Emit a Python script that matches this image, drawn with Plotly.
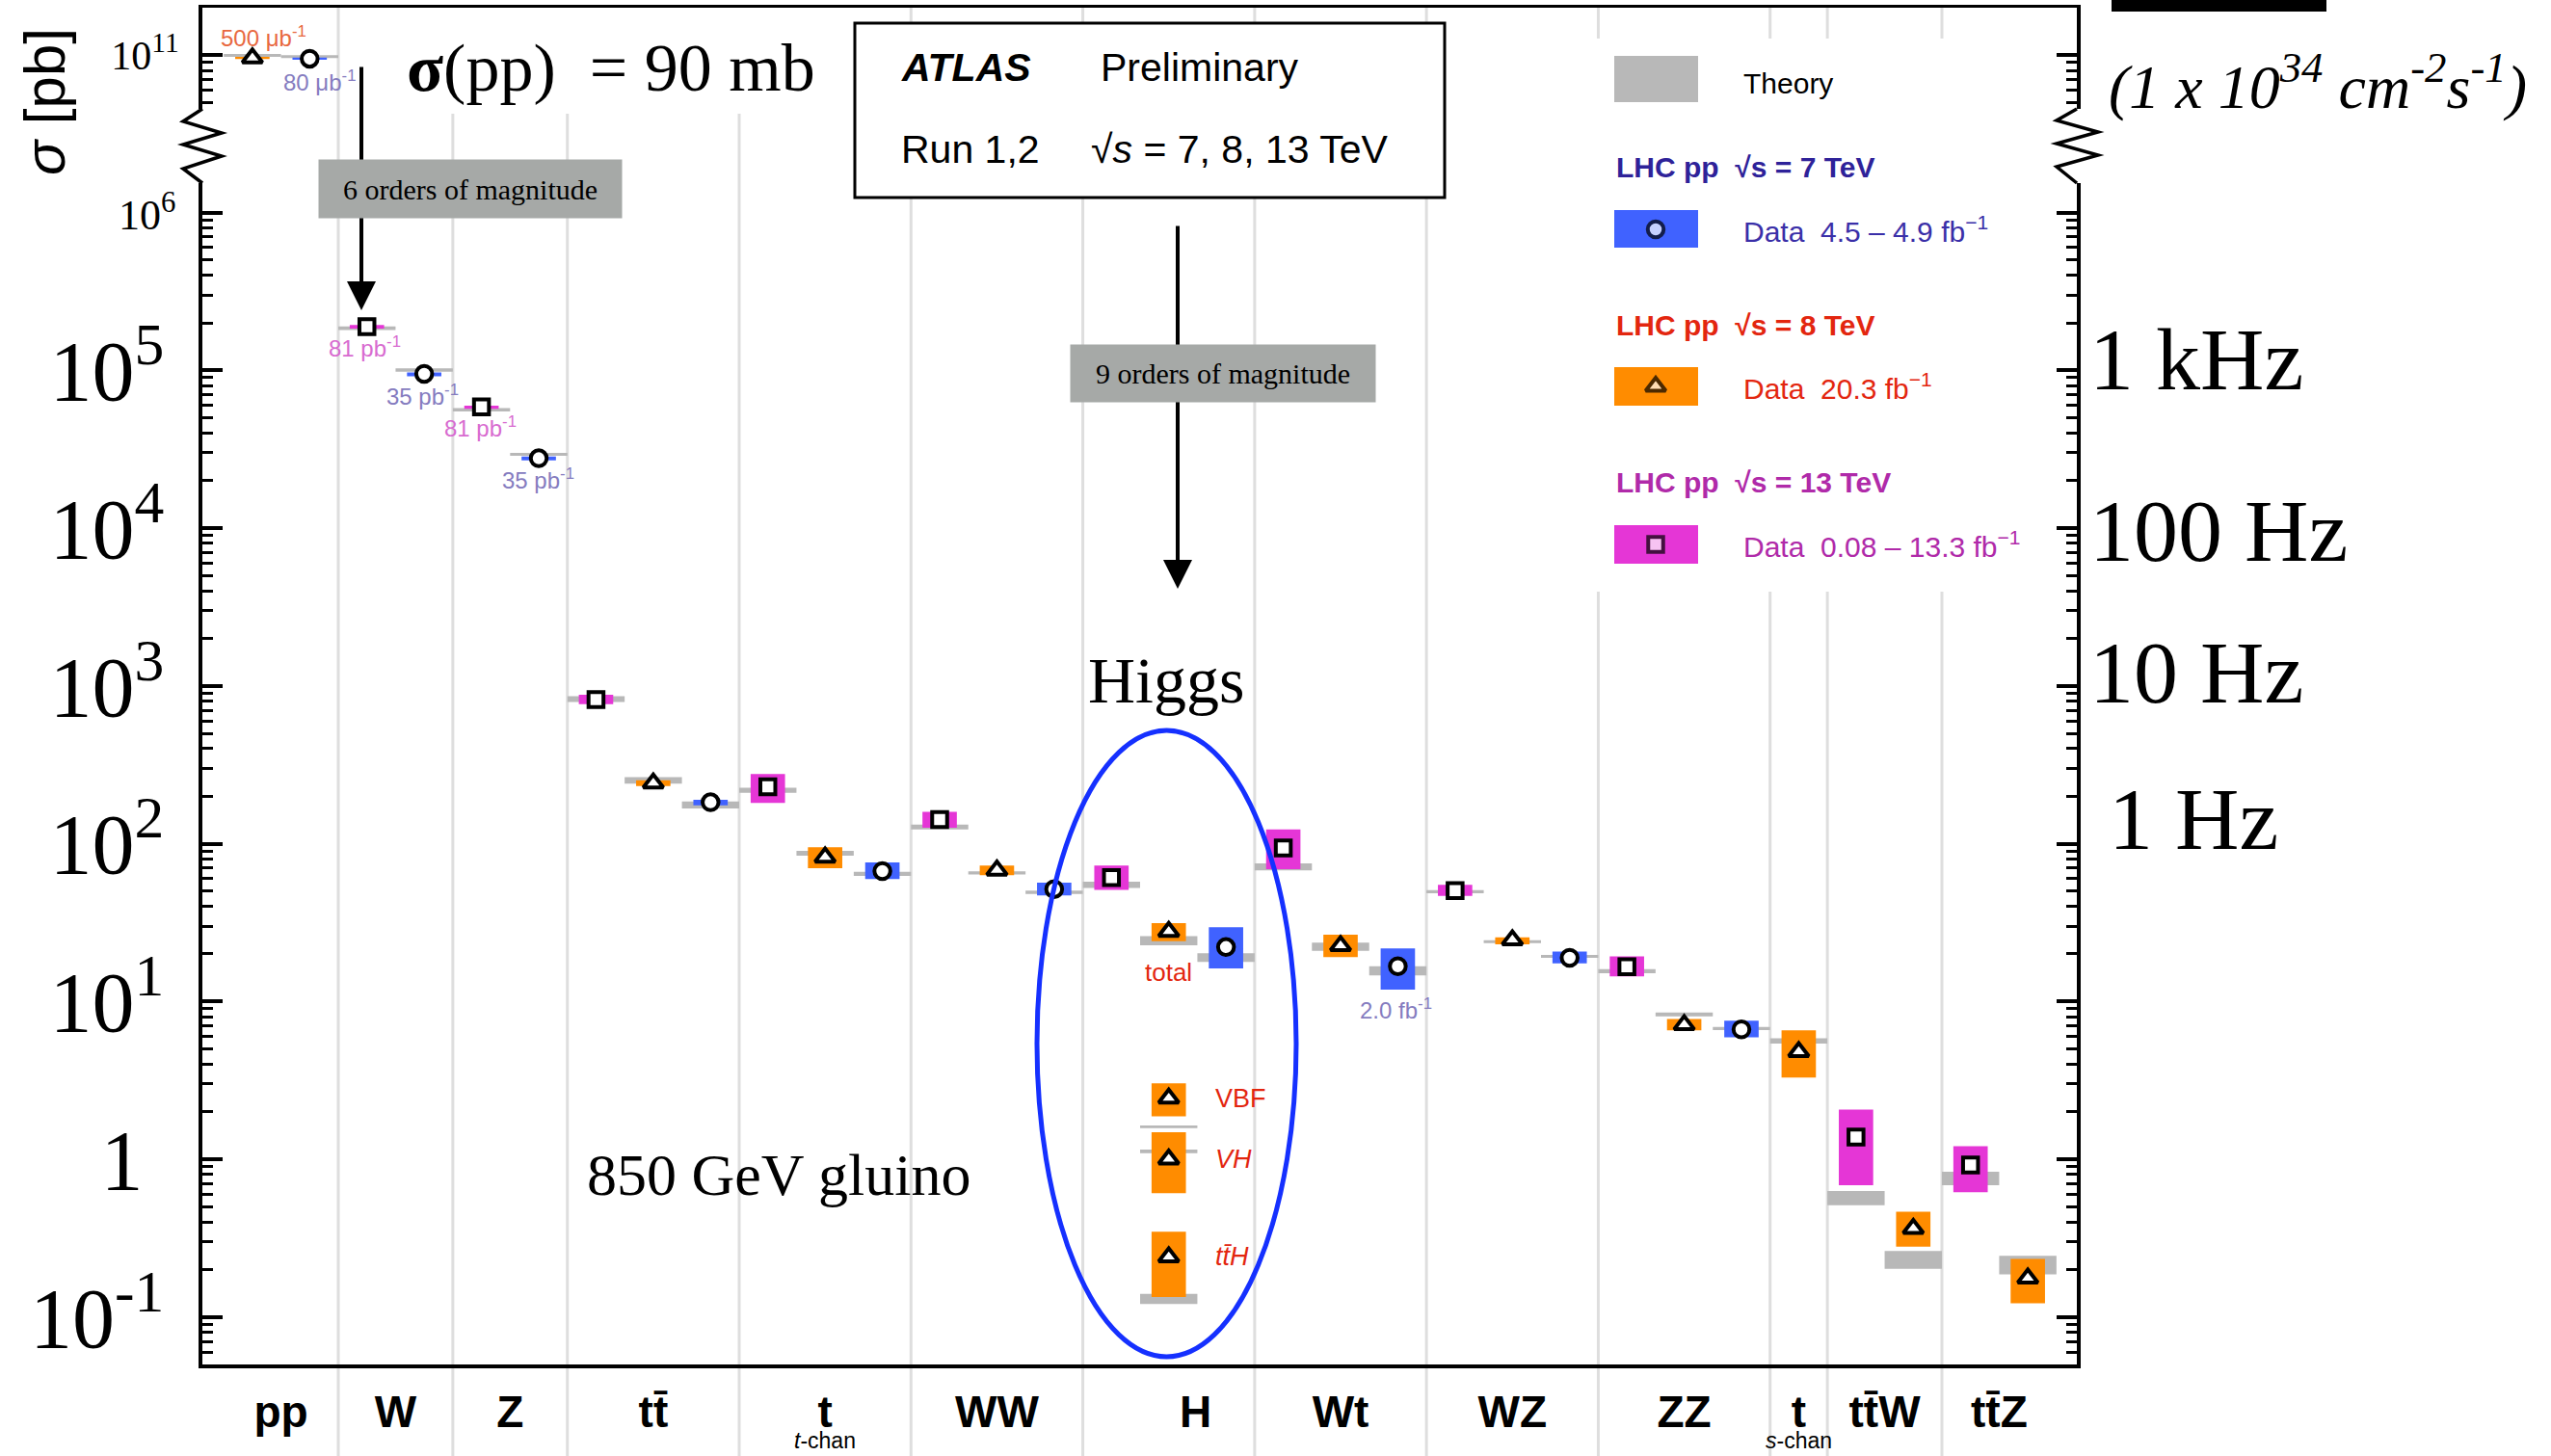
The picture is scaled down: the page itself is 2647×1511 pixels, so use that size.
import math
import plotly.graph_objects as go

# ---------------- data ----------------
cat_keys = ["pp", "W", "Z", "tt", "tchan", "WW", "H", "Wt", "WZ", "ZZ", "schan", "ttW", "ttZ"]
cat_labels = ["pp", "W", "Z", "tt\u0304", "t", "WW", "H", "Wt", "WZ", "ZZ", "t", "tt\u0304W", "tt\u0304Z"]
cat_sublabels = {"tchan": "<i>t</i>-chan", "schan": "<i>s</i>-chan"}

# 13 TeV (squares)
s13_cat = ["W", "Z", "tt", "tchan", "WW", "H", "Wt", "WZ", "ZZ", "ttW", "ttZ"]
s13_val = [1.89e5, 5.87e4, 818, 229, 142, 61, 94, 50.4, 16.6, 1.38, 0.92]
s13_lo = [1.84e5, 5.71e4, 767, 181, 126, 51, 69, 46.6, 14.4, 0.684, 0.617]
s13_hi = [1.94e5, 5.98e4, 880, 276, 159, 72.6, 123, 54.8, 19.3, 2.06, 1.21]
s13_th_lo = [1.80e5, 5.48e4, 790, 210, 123, 52.3, 67.8, 48.5, 15.1, 0.511, 0.684]
s13_th_hi = [1.90e5, 5.76e4, 860, 226, 132, 57.4, 75.0, 50.8, 16.0, 0.628, 0.833]

# 8 TeV (triangles)
s8_cat = ["pp", "tt", "tchan", "WW", "H", "Wt", "WZ", "ZZ", "schan", "ttW", "ttZ"]
s8_val = [9.6e10, 242, 82, 67.8, 27.7, 22.5, 24.5, 7.1, 4.8, 0.363, 0.176]
s8_lo = [9.45e10, 232, 70, 63, 24.1, 19.1, 23.0, 6.56, 3.29, 0.279, 0.122]
s8_hi = [9.75e10, 252, 95, 72.6, 31.3, 26.5, 25.5, 7.73, 6.56, 0.464, 0.233]
s8_th_lo = [9.75e10, 240, 84, 63.7, 22.7, 20.9, 23.4, 8.05, 5.41, 0.202, 0.186]
s8_th_hi = [1.02e11, 264, 90, 66.8, 25.9, 23.6, 24.4, 8.52, 5.83, 0.262, 0.244]

# 7 TeV (circles)
s7_cat = ["pp", "W", "Z", "tt", "tchan", "WW", "H", "Wt", "WZ", "ZZ"]
s7_val = [9.5e10, 9.5e4, 2.77e4, 183, 67, 51.5, 22.1, 16.7, 18.9, 6.65]
s7_lo = [9.35e10, 9.16e4, 2.69e4, 175, 59.7, 47, 16.2, 11.9, 17.4, 5.92]
s7_hi = [9.65e10, 9.7e4, 2.84e4, 190, 76, 56.6, 29.5, 21.7, 20.7, 7.55]
s7_th_lo = [9.6e10, 9.8e4, 2.87e4, 167, 62.5, 48, 17.8, 14.6, 18.9, 6.59]
s7_th_hi = [1.0e11, 1.03e5, 3.0e4, 185, 66.4, 50.4, 20.2, 16.7, 19.7, 6.90]

# Higgs production modes, 8 TeV
h_modes = ["VBF", "<i>VH</i>", "<i>tt\u0304H</i>"]
h_val = [2.43, 1.0, 0.24]
h_lo = [1.87, 0.61, 0.134]
h_hi = [3.03, 1.48, 0.347]
h_th_lo = [1.575, 1.09, 0.121]
h_th_hi = [1.636, 1.15, 0.140]

# luminosity labels: (category, energy, text)
lumi_cat = ["pp", "pp", "W", "W", "Z", "Z", "Wt"]
lumi_energy = [8, 7, 13, 7, 13, 7, 7]
lumi_text = ["500 \u03bcb<sup>-1</sup>", "80 \u03bcb<sup>-1</sup>", "81 pb<sup>-1</sup>", "35 pb<sup>-1</sup>",
             "81 pb<sup>-1</sup>", "35 pb<sup>-1</sup>", "2.0 fb<sup>-1</sup>"]

# rate scale on the right (at 1e34 cm^-2 s^-1)
rate_sigma = [1e5, 1e4, 1e3, 1e2]
rate_text = ["1 kHz", "100 Hz", "10 Hz", "1 Hz"]

# ---------------- styling ----------------
SERIF = "Liberation Serif, Times New Roman, serif"
SANS = "Liberation Sans, Arial, sans-serif"
C_TH = "#b8b8b8"
C7, C8, C13 = "#4062ff", "#ff8c00", "#e536d6"
T7, T8, T13 = "#2e2299", "#e3260f", "#b02aa9"
L7, L8, L13 = "#857cbf", "#e8683f", "#d86bd0"

L, R, T, B = 210, 2155, 8, 1416          # plot area in pixels


def px(x):
    return (x - L) / (R - L)


def py(y):
    return (B - y) / (B - T)


MS = {"square": 15.5, "triangle-up": 18, "circle": 16.5}
MLW = 4

series = [
    dict(e=13, cats=s13_cat, val=s13_val, lo=s13_lo, hi=s13_hi, tlo=s13_th_lo, thi=s13_th_hi,
         color=C13, symbol="square"),
    dict(e=8, cats=s8_cat, val=s8_val, lo=s8_lo, hi=s8_hi, tlo=s8_th_lo, thi=s8_th_hi,
         color=C8, symbol="triangle-up"),
    dict(e=7, cats=s7_cat, val=s7_val, lo=s7_lo, hi=s7_hi, tlo=s7_th_lo, thi=s7_th_hi,
         color=C7, symbol="circle"),
]

# slot assignment
slot_center = {}
bounds = []
k = 0
for key in cat_keys:
    start = k
    for s in series:
        if key in s["cats"]:
            slot_center[(key, s["e"])] = k + 0.5
            k += 1
    bounds.append((start, k))
n_slots = k
XMIN, XMAX = -0.373, n_slots + 0.356


def xpaper(xv):
    return (xv - XMIN) / (XMAX - XMIN)


fig = go.Figure()


def rect_trace(xc, lo, hi, half, color, xa, ya):
    xs, ys = [], []
    for x, l, h in zip(xc, lo, hi):
        xs += [x - half, x + half, x + half, x - half, x - half, None]
        ys += [l, l, h, h, l, None]
    fig.add_trace(go.Scatter(x=xs, y=ys, mode="lines", fill="toself", fillcolor=color,
                             line=dict(width=0, color=color), xaxis=xa, yaxis=ya,
                             hoverinfo="skip", showlegend=False))


def split(s):
    up, low = [], []
    for i, c in enumerate(s["cats"]):
        (up if c == "pp" else low).append(i)
    return up, low


hx = [slot_center[("H", 8)]] * len(h_val)

# theory bands
for s in series:
    up, low = split(s)
    for idx, xa, ya in ((low, "x", "y"), (up, "x2", "y2")):
        if idx:
            rect_trace([slot_center[(s["cats"][i], s["e"])] for i in idx],
                       [s["tlo"][i] for i in idx], [s["thi"][i] for i in idx], 0.5, C_TH, xa, ya)
rect_trace(hx, h_th_lo, h_th_hi, 0.5, C_TH, "x", "y")

# data boxes
for s in series:
    up, low = split(s)
    for idx, xa, ya in ((low, "x", "y"), (up, "x2", "y2")):
        if idx:
            rect_trace([slot_center[(s["cats"][i], s["e"])] for i in idx],
                       [s["lo"][i] for i in idx], [s["hi"][i] for i in idx], 0.3, s["color"], xa, ya)
rect_trace(hx, h_lo, h_hi, 0.3, C8, "x", "y")

# markers
for s in series:
    up, low = split(s)
    for idx, xa, ya in ((low, "x", "y"), (up, "x2", "y2")):
        if idx:
            fig.add_trace(go.Scatter(
                x=[slot_center[(s["cats"][i], s["e"])] for i in idx],
                y=[s["val"][i] for i in idx], mode="markers", xaxis=xa, yaxis=ya,
                marker=dict(symbol=s["symbol"], size=MS[s["symbol"]], color="white",
                            line=dict(color="black", width=MLW)),
                hoverinfo="skip", showlegend=False, cliponaxis=False))
fig.add_trace(go.Scatter(x=hx, y=h_val, mode="markers", xaxis="x", yaxis="y",
                         marker=dict(symbol="triangle-up", size=MS["triangle-up"], color="white",
                                     line=dict(color="black", width=MLW)),
                         hoverinfo="skip", showlegend=False))

# legend markers (overlay axes in paper units)
fig.add_trace(go.Scatter(x=[px(1718)] * 3, y=[py(238), py(401), py(565)], mode="markers",
                         xaxis="x3", yaxis="y3", cliponaxis=False, hoverinfo="skip", showlegend=False,
                         marker=dict(symbol=["circle", "triangle-up", "square"],
                                     size=[MS["circle"], MS["triangle-up"], MS["square"]],
                                     color="white", line=dict(color="black", width=MLW))))

# ---------------- shapes ----------------
shapes = []
# category separators
for (a, b) in bounds[:-1]:
    xp = xpaper(b)
    shapes.append(dict(type="line", xref="paper", yref="paper", x0=xp, x1=xp, y0=py(1511), y1=1,
                       line=dict(color="#dedede", width=3), layer="below"))
# white areas behind texts
for (x0, y0, x1, y1) in [(395, 8, 885, 118), (1640, 40, 2150, 614)]:
    shapes.append(dict(type="rect", xref="paper", yref="paper", x0=px(x0), x1=px(x1), y0=py(y1), y1=py(y0),
                       fillcolor="white", line=dict(width=0), layer="below"))
# ATLAS box
shapes.append(dict(type="rect", xref="paper", yref="paper", x0=px(887), x1=px(1499), y0=py(205), y1=py(24),
                   fillcolor="white", line=dict(color="black", width=3), layer="below"))
# legend colour boxes
for (y0, y1, col) in [(58, 106, C_TH), (218, 257, C7), (381, 421, C8), (545, 585, C13)]:
    shapes.append(dict(type="rect", xref="paper", yref="paper", x0=px(1675), x1=px(1762), y0=py(y1), y1=py(y0),
                       fillcolor=col, line=dict(width=0), layer="below"))


def zig(points):
    return "M " + " L ".join(f"{px(a):.5f},{py(b):.5f}" for a, b in points)


shapes.append(dict(type="path", xref="paper", yref="paper", layer="above",
                   path=zig([(210, 113), (190, 126), (230, 138), (190, 150), (230, 162), (190, 175), (210, 190)]),
                   line=dict(color="black", width=3.5)))
shapes.append(dict(type="path", xref="paper", yref="paper", layer="above",
                   path=zig([(2155, 113), (2134, 125), (2177, 137), (2134, 149), (2177, 161), (2134, 173), (2155, 190)]),
                   line=dict(color="black", width=3.5)))
# Higgs ellipse
shapes.append(dict(type="circle", xref="paper", yref="paper", x0=px(1076), x1=px(1345), y0=py(1408), y1=py(758),
                   line=dict(color="#1530ff", width=5), layer="above"))
# black bar top right
shapes.append(dict(type="rect", xref="paper", yref="paper", x0=px(2191), x1=px(2414), y0=py(12), y1=py(-2),
                   fillcolor="black", line=dict(width=0), layer="above"))

# ---------------- annotations ----------------
anns = []


def A(text, x, y, size, color="black", family=SANS, xanchor="center", **kw):
    d = dict(text=text, x=px(x), y=py(y), xref="paper", yref="paper", showarrow=False,
             font=dict(size=size, color=color, family=family), xanchor=xanchor, yanchor="middle")
    d.update(kw)
    anns.append(d)


A("<i>\u03c3</i> [pb]", 47, 106, 60, textangle=-90)
A("<b>\u03c3</b>(pp)\u00a0 = 90 mb", 634, 70, 70, family=SERIF)
# arrows + grey boxes
anns.append(dict(x=px(375), y=py(322), xref="paper", yref="paper", text="", showarrow=True, arrowhead=2,
                 arrowsize=1.5, arrowwidth=4, arrowcolor="black", ax=0, ay=-254, standoff=0))
A("6 orders of magnitude", 488, 196, 30, family=SERIF, bgcolor="#a6a9a7", width=314, height=60, borderpad=0)
anns.append(dict(x=px(1222), y=py(611), xref="paper", yref="paper", text="", showarrow=True, arrowhead=2,
                 arrowsize=1.5, arrowwidth=4, arrowcolor="black", ax=0, ay=-378, standoff=0))
A("9 orders of magnitude", 1269, 387, 30, family=SERIF, bgcolor="#a6a9a7", width=316, height=59, borderpad=0)
# ATLAS box text
A("<b><i>ATLAS</i></b>", 933, 70, 41, xanchor="left")
A("Preliminary", 1140, 70, 41, xanchor="left")
A("Run 1,2", 933, 155, 41, xanchor="left")
A("\u221a<i>s</i> = 7, 8, 13 TeV", 1130, 155, 41, xanchor="left")
# legend text
A("Theory", 1807, 86, 30, xanchor="left")
A("<b>LHC pp\u00a0 \u221as = 7 TeV</b>", 1675, 173, 30, color=T7, xanchor="left")
A("Data\u00a0 4.5 \u2013 4.9 fb<sup>\u22121</sup>", 1807, 238, 30, color="#3a2fa8", xanchor="left")
A("<b>LHC pp\u00a0 \u221as = 8 TeV</b>", 1675, 337, 30, color=T8, xanchor="left")
A("Data\u00a0 20.3 fb<sup>\u22121</sup>", 1807, 401, 30, color=T8, xanchor="left")
A("<b>LHC pp\u00a0 \u221as = 13 TeV</b>", 1675, 501, 30, color=T13, xanchor="left")
A("Data\u00a0 0.08 \u2013 13.3 fb<sup>\u22121</sup>", 1807, 565, 30, color=T13, xanchor="left")
# big texts
A("Higgs", 1210, 706, 68, family=SERIF)
A("850 GeV gluino", 808, 1219, 62, family=SERIF)
A("<i>(1 x 10<sup>34</sup> cm<sup>-2</sup>s<sup>-1</sup>)</i>", 2186, 85, 64, family=SERIF, xanchor="left")

# rate labels tied to the sigma axis
rate_x = [2166, 2166, 2166, 2186]
rate_shift = [11, -3, 14, 26]
for sv, tx, rx, sh in zip(rate_sigma, rate_text, rate_x, rate_shift):
    anns.append(dict(text=tx, x=px(rx), y=math.log10(sv), xref="paper", yref="y", showarrow=False,
                     xanchor="left", yanchor="middle", yshift=sh,
                     font=dict(size=92, family=SERIF, color="black")))
# 10^6 label (smaller, like the original)
anns.append(dict(text="10<sup>6</sup>", x=px(184), y=6, xref="paper", yref="y", showarrow=False,
                 xanchor="right", yanchor="middle", font=dict(size=44, family=SERIF, color="black")))

# luminosity labels next to points
lumi_color = {8: L8, 7: L7, 13: L13}
lumi_shift = [(12, 22), (10, -23), (-2, -21), (-2, -22), (-1, -21), (-1, -21), (-2, -44)]
for c, e, tx, (dx, dy) in zip(lumi_cat, lumi_energy, lumi_text, lumi_shift):
    s = [ss for ss in series if ss["e"] == e][0]
    v = s["val"][s["cats"].index(c)]
    up = c == "pp"
    anns.append(dict(text=tx, x=slot_center[(c, e)], y=math.log10(v), xref="x2" if up else "x",
                     yref="y2" if up else "y", showarrow=False, xshift=dx, yshift=dy,
                     font=dict(size=24, family=SANS, color=lumi_color[e])))
# Higgs labels
hv_total = s8_val[s8_cat.index("H")]
anns.append(dict(text="total", x=slot_center[("H", 8)], y=math.log10(hv_total), xref="x", yref="y",
                 showarrow=False, yshift=-42, font=dict(size=26, family=SANS, color=T8)))
for name, v in zip(h_modes, h_val):
    anns.append(dict(text=name, x=slot_center[("H", 8)], y=math.log10(v), xref="x", yref="y",
                     showarrow=False, xanchor="left", xshift=46, font=dict(size=27, family=SANS, color=T8)))

# sub-labels for single top
for key, txt in cat_sublabels.items():
    a, b = bounds[cat_keys.index(key)]
    anns.append(dict(text=txt, x=(a + b) / 2, y=py(1495), xref="x", yref="paper", showarrow=False,
                     yanchor="middle", borderpad=0, font=dict(size=23, family=SANS, color="black")))

# ---------------- axes ----------------
tickvals = [(a + b) / 2 for a, b in bounds]
tickvals[cat_keys.index("H")] += 0.47

major_low = [10.0 ** d for d in range(-1, 7)]
ticktext_low = ["10<sup>-1</sup>", "1\u00a0", "10<sup>1</sup>", "10<sup>2</sup>", "10<sup>3</sup>",
                "10<sup>4</sup>", "10<sup>5</sup>", ""]
minor_low = [m * 10.0 ** d for d in range(-2, 7) for m in range(2, 10) if 0.05 <= m * 10.0 ** d <= 1.5e6]
minor_up = [m * 1e10 for m in range(5, 10)]

yr_low = [math.log10(0.05), -1 + (1366.7 - 190) / 163.73]
yr_up = [11 - (113 - 57.3) / 163.73, 11 + (57.3 - 8) / 163.73]

common_y = dict(type="log", showline=True, linecolor="black", linewidth=4, mirror="ticks",
                ticks="inside", ticklen=21, tickwidth=3.5, tickcolor="black", showgrid=False,
                zeroline=False, automargin=False)

fig.update_layout(
    width=2647, height=1511,
    margin=dict(l=L, r=2647 - R, t=T, b=1511 - B, pad=0),
    paper_bgcolor="white", plot_bgcolor="rgba(0,0,0,0)", showlegend=False,
    xaxis=dict(domain=[0, 1], range=[XMIN, XMAX], anchor="y", showgrid=False, zeroline=False,
               showline=True, linecolor="black", linewidth=4, ticks="", tickvals=tickvals,
               ticktext=cat_labels, ticklabelstandoff=6, automargin=False,
               tickfont=dict(family=SANS, size=46, color="black", weight="bold")),
    yaxis=dict(domain=[0, py(190)], range=yr_low, anchor="x", tickvals=major_low, ticktext=ticktext_low,
               tickfont=dict(family=SERIF, size=88, color="black"), ticklabelstandoff=18,
               minor=dict(tickvals=minor_low, ticks="inside", ticklen=11, tickwidth=3, tickcolor="black",
                          showgrid=False), **common_y),
    xaxis2=dict(domain=[0, 1], range=[XMIN, XMAX], matches="x", anchor="y2", side="top", showline=True,
                linecolor="black", linewidth=3, showticklabels=False, ticks="", showgrid=False,
                zeroline=False),
    yaxis2=dict(domain=[py(113), 1], range=yr_up, anchor="x2", tickvals=[1e11],
                ticktext=["10<sup>11</sup>"], tickfont=dict(family=SERIF, size=42, color="black"),
                ticklabelstandoff=12,
                minor=dict(tickvals=minor_up, ticks="inside", ticklen=11, tickwidth=3, tickcolor="black",
                           showgrid=False), **common_y),
    xaxis3=dict(domain=[0, 1], range=[0, 1], anchor="y3", visible=False),
    yaxis3=dict(domain=[0, 1], range=[0, 1], anchor="x3", visible=False),
    shapes=shapes,
    annotations=anns,
)

fig.write_html("out.html")
